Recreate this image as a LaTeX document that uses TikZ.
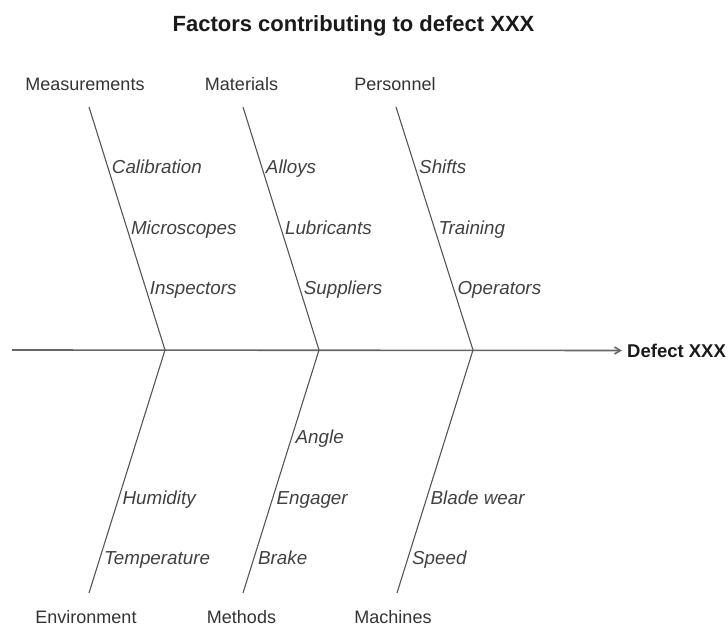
\documentclass[tikz,border=0pt]{standalone}
\usepackage{fontspec}
\setmainfont{Liberation Sans}
\usetikzlibrary{arrows.meta,calc}
\definecolor{linegray}{HTML}{555555}
\definecolor{spinegray}{HTML}{666666}
\definecolor{textgray}{HTML}{333333}
\definecolor{causegray}{HTML}{404040}
\definecolor{titleblack}{HTML}{1A1A1A}
\begin{document}
\begin{tikzpicture}[x=1pt,y=-1pt,
  bone/.style={draw=linegray, line width=1.1pt},
  spine/.style={draw=spinegray, line width=1.6pt},
  cat/.style={font=\fontsize{18}{20}\selectfont, text=textgray, inner sep=0pt, anchor=base},
  cause/.style={font=\fontsize{18.8}{21}\selectfont\itshape, text=causegray, inner sep=0pt, anchor=base west, xshift=4pt, yshift=-6pt},
  ]
\useasboundingbox (0,0) rectangle (728,628);
% title
\node[font=\fontsize{22}{24}\selectfont\bfseries, text=titleblack, inner sep=0pt, anchor=base] (title) at (353.5,32) {Factors contributing to defect XXX};
% bone end points
\coordinate (T1) at (89,107);  \coordinate (J1) at (165,350); \coordinate (B1) at (89,593);
\coordinate (T2) at (243,107); \coordinate (J2) at (319,350); \coordinate (B2) at (243,593);
\coordinate (T3) at (396,107); \coordinate (J3) at (473,350); \coordinate (B3) at (397,593);
\coordinate (S) at (12,350);
% effect
\node[font=\fontsize{18.5}{20}\selectfont\bfseries, text=titleblack, inner sep=0pt, anchor=west] (defect) at (627,350.5) {Defect XXX};
% spine
\draw[spine, -{Straight Barb[length=6pt,width=7pt]}, shorten >=5pt] (S) -- (defect.west);
% bones
\draw[bone] (T1) -- (J1) -- (B1);
\draw[bone] (T2) -- (J2) -- (B2);
\draw[bone] (T3) -- (J3) -- (B3);
% categories
\node[cat] (meas) at (85,91) {Measurements};
\node[cat] (mat) at (241.5,91) {Materials};
\node[cat] (pers) at (395,91) {Personnel};
\node[cat] (env) at (86,623) {Environment};
\node[cat] (meth) at (241.5,623) {Methods};
\node[cat] (mach) at (393,623) {Machines};
% causes top
\node[cause] (calib) at ($(T1)!0.247!(J1)$) {Calibration};
\node[cause] (micro) at ($(T1)!0.498!(J1)$) {Microscopes};
\node[cause] (insp)  at ($(T1)!0.745!(J1)$) {Inspectors};
\node[cause] (alloy) at ($(T2)!0.247!(J2)$) {Alloys};
\node[cause] (lubr)  at ($(T2)!0.498!(J2)$) {Lubricants};
\node[cause] (supp)  at ($(T2)!0.745!(J2)$) {Suppliers};
\node[cause] (shift) at ($(T3)!0.247!(J3)$) {Shifts};
\node[cause] (train) at ($(T3)!0.498!(J3)$) {Training};
\node[cause] (oper)  at ($(T3)!0.745!(J3)$) {Operators};
% causes bottom
\node[cause] (humid) at ($(J1)!0.613!(B1)$) {Humidity};
\node[cause] (temp)  at ($(J1)!0.856!(B1)$) {Temperature};
\node[cause] (angle) at ($(J2)!0.362!(B2)$) {Angle};
\node[cause] (eng)   at ($(J2)!0.613!(B2)$) {Engager};
\node[cause] (brake) at ($(J2)!0.856!(B2)$) {Brake};
\node[cause] (blade) at ($(J3)!0.613!(B3)$) {Blade wear};
\node[cause] (speed) at ($(J3)!0.856!(B3)$) {Speed};
\end{tikzpicture}
\end{document}
